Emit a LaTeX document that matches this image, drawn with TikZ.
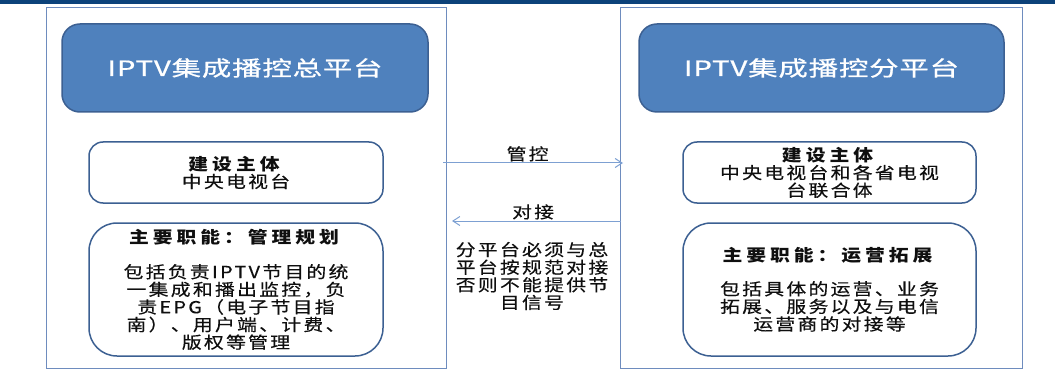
\documentclass[tikz,border=0pt]{standalone}
\usepackage{fontspec}
\setmainfont{Noto Sans CJK SC}
\newfontfamily\bodyf[FakeStretch=1.2,LetterSpace=14,FakeBold=0.4,BoldFeatures={LetterSpace=24,FakeBold=0}]{Noto Sans CJK SC}
\newfontfamily\headf[FakeStretch=1.4,LetterSpace=4,FakeBold=0.8]{Noto Sans CJK SC}
\usetikzlibrary{arrows.meta}
\definecolor{navy}{RGB}{12,66,122}
\definecolor{boxblue}{RGB}{79,129,189}
\definecolor{boxedge}{RGB}{60,96,146}
\definecolor{outline}{RGB}{110,140,190}
\definecolor{arrowc}{RGB}{125,160,210}
\definecolor{txt}{RGB}{15,15,15}
\tikzset{
  outerbox/.style={draw=outline, line width=1pt, fill=white, inner sep=0pt},
  headbox/.style={draw=boxedge, line width=1.5pt, fill=boxblue, rounded corners=18pt, inner sep=0pt,
    text=white, font=\headf\fontsize{21}{24}\selectfont},
  infobox/.style={draw=boxedge, line width=1.5pt, fill=white, rounded corners=14pt, inner sep=0pt,
    align=center, text=txt, font=\bodyf\fontsize{16.5}{17.6}\selectfont},
  dutybox/.style={infobox, rounded corners=28pt},
  plaintext/.style={align=center, text=txt, inner sep=0pt, font=\bodyf\fontsize{16.5}{17.6}\selectfont},
  arr/.style={draw=arrowc, line width=1pt, -{Straight Barb[length=7pt,width=9pt]}},
  arrlabel/.style={text=txt, inner sep=1pt, font=\bodyf\fontsize{16.5}{17.6}\selectfont}
}
\begin{document}
\begin{tikzpicture}[x=1pt,y=-1pt]
\useasboundingbox (0,0) rectangle (1059,374);
% top bar
\fill[navy] (0,0) rectangle (1055,4);
% outer frames
\node[outerbox, minimum width=400pt, minimum height=360pt] (L) at (246,188) {};
\node[outerbox, minimum width=402pt, minimum height=360pt] (R) at (821,188) {};
% header boxes
\node[headbox, minimum width=366pt, minimum height=88pt] (LH) at (245,68) {IPTV集成播控总平台};
\node[headbox, minimum width=365pt, minimum height=88pt] (RH) at (821.5,68) {IPTV集成播控分平台};
% builder boxes
\node[infobox, minimum width=294pt, minimum height=61pt] (LB) at (236,172.5)
  {\textbf{建设主体}\\中央电视台};
\node[infobox, minimum width=293pt, minimum height=61pt] (RB) at (829.5,172.5)
  {\textbf{建设主体}\\中央电视台和各省电视\\台联合体};
% duty boxes
\node[dutybox, minimum width=294pt, minimum height=133pt] (LD) at (236,289.5)
  {\textbf{主要职能：管理规划}\\[17pt]包括负责IPTV节目的统\\一集成和播出监控，负\\责EPG（电子节目指\\南）、用户端、计费、\\版权等管理};
\node[dutybox, minimum width=293pt, minimum height=133pt] (RD) at (829.5,289.5)
  {\textbf{主要职能：运营拓展}\\[16pt]包括具体的运营、业务\\拓展、服务以及与电信\\运营商的对接等};
% connectors
\coordinate (a1s) at (443,163);
\coordinate (a1e) at (623,163);
\coordinate (a2s) at (621,221);
\coordinate (a2e) at (452,221);
\draw[arr] (a1s) -- node[arrlabel, above, pos=0.47] (l1) {管控} (a1e);
\draw[arr] (a2s) -- node[arrlabel, above, pos=0.52] (l2) {对接} (a2e);
\node[plaintext] (M) at (532,276) {分平台必须与总\\平台按规范对接\\否则不能提供节\\目信号};
\end{tikzpicture}
\end{document}
